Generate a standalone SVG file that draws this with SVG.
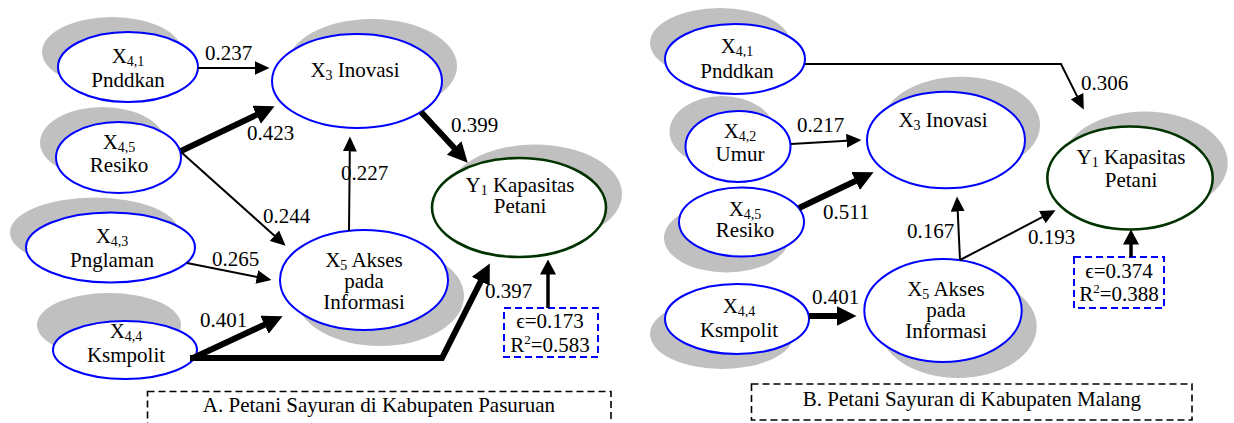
<svg xmlns="http://www.w3.org/2000/svg" width="1234" height="423" viewBox="0 0 1234 423">
<style>
text{font-family:"Liberation Serif","Times New Roman",serif;font-size:21px;fill:#000;text-anchor:middle}
.lbl{text-anchor:start}
.sub{font-size:14px}
.sup{font-size:13px}
.sh{fill:#c0c0c0;stroke:none}
.nb{fill:#fff;stroke:#0000ff;stroke-width:2}
.ng{fill:#fff;stroke:#003300;stroke-width:2.6}
.thin{fill:none;stroke:#000;stroke-width:2;marker-end:url(#ahThin)}
.thick{fill:none;stroke:#000;stroke-width:6;marker-end:url(#ahThick)}
.mid{fill:none;stroke:#000;stroke-width:3.5;marker-end:url(#ahMid)}
.err{fill:#fff;stroke:#0000ff;stroke-width:2;stroke-dasharray:7,4}
.cap{fill:none;stroke:#000;stroke-width:1.6;stroke-dasharray:7,4}
</style>
<defs>
<marker id="ahThin" markerUnits="userSpaceOnUse" markerWidth="15" markerHeight="14" viewBox="0 0 15 14" refX="0.5" refY="7" orient="auto"><path d="M0,0 L15,7 L0,14 z" fill="#000"/></marker>
<marker id="ahMid" markerUnits="userSpaceOnUse" markerWidth="15" markerHeight="16" viewBox="0 0 15 16" refX="0.5" refY="8" orient="auto"><path d="M0,0 L15,8 L0,16 z" fill="#000"/></marker>
<marker id="ahThick" markerUnits="userSpaceOnUse" markerWidth="20" markerHeight="20" viewBox="0 0 20 20" refX="0.5" refY="10" orient="auto"><path d="M0,0 L20,10 L0,20 z" fill="#000"/></marker>
</defs>

<!-- Panel A nodes -->
<g id="nA41"><ellipse class="sh" cx="112" cy="52" rx="70" ry="35"/><ellipse class="nb" cx="128" cy="67" rx="70" ry="35"/>
<text x="128" y="63">X<tspan class="sub" dy="3">4,1</tspan></text><text x="128" y="87">Pnddkan</text></g>
<g id="nA45"><ellipse class="sh" cx="102.5" cy="142.5" rx="62.5" ry="35.5"/><ellipse class="nb" cx="118.5" cy="157.5" rx="62.5" ry="35.5"/>
<text x="119" y="149">X<tspan class="sub" dy="3">4,5</tspan></text><text x="119" y="172">Resiko</text></g>
<g id="nA43"><ellipse class="sh" cx="94.5" cy="232.5" rx="84.5" ry="35"/><ellipse class="nb" cx="110.5" cy="247.5" rx="84.5" ry="35"/>
<text x="112" y="243">X<tspan class="sub" dy="3">4,3</tspan></text><text x="112" y="267">Pnglaman</text></g>
<g id="nA44"><ellipse class="sh" cx="109" cy="325" rx="72" ry="32"/><ellipse class="nb" cx="125" cy="350" rx="72" ry="29"/>
<text x="126" y="338">X<tspan class="sub" dy="3">4,4</tspan></text><text x="126" y="362">Ksmpolit</text></g>
<g id="nA3"><ellipse class="sh" cx="372" cy="66" rx="85" ry="47"/><ellipse class="nb" cx="357" cy="81" rx="85" ry="47"/>
<text x="355" y="77">X<tspan class="sub" dy="3">3</tspan><tspan dy="-3"> Inovasi</tspan></text></g>
<g id="nAY"><ellipse class="sh" cx="535" cy="194" rx="87" ry="49.5"/><ellipse class="ng" cx="519" cy="207.5" rx="87" ry="49.5"/>
<text x="520" y="192">Y<tspan class="sub" dy="3">1</tspan><tspan dy="-3"> Kapasitas</tspan></text><text x="520" y="213">Petani</text></g>
<g id="nA5"><ellipse class="sh" cx="380" cy="296" rx="84" ry="50"/><ellipse class="nb" cx="364" cy="280" rx="84" ry="50"/>
<text x="364" y="267">X<tspan class="sub" dy="3">5</tspan><tspan dy="-3"> Akses</tspan></text><text x="364" y="288">pada</text><text x="364" y="309">Informasi</text></g>
<g id="errA"><rect class="err" x="504" y="308" width="94" height="49"/>
<text x="550" y="328">ϵ=0.173</text><text x="550" y="352">R<tspan class="sup" dy="-8">2</tspan><tspan dy="8">=0.583</tspan></text></g>
<g id="capA"><rect class="cap" x="147.5" y="391.5" width="463.5" height="45"/><text x="379" y="412">A. Petani Sayuran di Kabupaten Pasuruan</text></g>

<!-- Panel B nodes -->
<g id="nB41"><ellipse class="sh" cx="720" cy="43" rx="70" ry="35"/><ellipse class="nb" cx="735" cy="59" rx="70" ry="35"/>
<text x="737" y="53">X<tspan class="sub" dy="3">4,1</tspan></text><text x="737" y="78">Pnddkan</text></g>
<g id="nB42"><ellipse class="sh" cx="722" cy="131.5" rx="52.5" ry="35.5"/><ellipse class="nb" cx="738" cy="146.5" rx="52.5" ry="35.5"/>
<text x="740" y="138">X<tspan class="sub" dy="3">4,2</tspan></text><text x="740" y="161">Umur</text></g>
<g id="nB45"><ellipse class="sh" cx="726.5" cy="238" rx="62.5" ry="34.5"/><ellipse class="nb" cx="741.5" cy="222" rx="62.5" ry="34.5"/>
<text x="745" y="216">X<tspan class="sub" dy="3">4,5</tspan></text><text x="745" y="237">Resiko</text></g>
<g id="nB44"><ellipse class="sh" cx="722" cy="334" rx="72" ry="35"/><ellipse class="nb" cx="737" cy="319" rx="72" ry="35"/>
<text x="739" y="313">X<tspan class="sub" dy="3">4,4</tspan></text><text x="739" y="337">Ksmpolit</text></g>
<g id="nB3"><ellipse class="sh" cx="961" cy="125" rx="79" ry="48.3"/><ellipse class="nb" cx="946" cy="140" rx="79" ry="48.3"/>
<text x="943" y="127">X<tspan class="sub" dy="3">3</tspan><tspan dy="-3"> Inovasi</tspan></text></g>
<g id="nBY"><ellipse class="sh" cx="1145" cy="163" rx="82.7" ry="51.5"/><ellipse class="ng" cx="1130" cy="178" rx="82.7" ry="51.5"/>
<text x="1131" y="164">Y<tspan class="sub" dy="3">1</tspan><tspan dy="-3"> Kapasitas</tspan></text><text x="1131" y="187">Petani</text></g>
<g id="nB5"><ellipse class="sh" cx="958" cy="326.5" rx="78.7" ry="51.5"/><ellipse class="nb" cx="943" cy="310.5" rx="78.7" ry="51.5"/>
<text x="946" y="296">X<tspan class="sub" dy="3">5</tspan><tspan dy="-3"> Akses</tspan></text><text x="946" y="317">pada</text><text x="946" y="338">Informasi</text></g>
<g id="errB"><rect class="err" x="1074" y="257" width="90" height="51"/>
<text x="1119" y="278">ϵ=0.374</text><text x="1119" y="301">R<tspan class="sup" dy="-8">2</tspan><tspan dy="8">=0.388</tspan></text></g>
<g id="capB"><rect class="cap" x="751.5" y="384" width="440.5" height="36"/><text x="972" y="406">B. Petani Sayuran di Kabupaten Malang</text></g>

<!-- Connectors -->
<g id="connectors">
<path class="thin" d="M198,68 L255,68"/>
<path class="thick" d="M181,151 L257,114.6"/>
<path class="thin" d="M181,152 L274.8,236"/>
<path class="thin" d="M187,263 L257.3,277.1"/>
<path class="thick" d="M193,358 L264.9,324.5"/>
<path class="thick" d="M190,358 L442,358 L481,280.9" stroke-linejoin="miter"/>
<path class="thin" d="M349,231 L349.8,151"/>
<path class="thick" d="M421,112 L454.5,148.3"/>
<path class="mid" d="M548,308 L548,274"/>
<path class="thin" d="M805,64 L1061,64 L1077.3,96.6"/>
<path class="thin" d="M791,144 L847,140.8"/>
<path class="thick" d="M799,208 L856,180.7"/>
<path class="thick" d="M809,316 L837,316"/>
<path class="thin" d="M960,260 L957.7,211"/>
<path class="thin" d="M960,260 L1042.7,216.9"/>
<path class="mid" d="M1131,257 L1131,244"/>
</g>
<g id="labels">
<text class="lbl" x="205" y="60">0.237</text>
<text class="lbl" x="247" y="140">0.423</text>
<text class="lbl" x="263" y="223">0.244</text>
<text class="lbl" x="212" y="266">0.265</text>
<text class="lbl" x="200" y="327">0.401</text>
<text class="lbl" x="485" y="298">0.397</text>
<text class="lbl" x="341" y="180">0.227</text>
<text class="lbl" x="451" y="132">0.399</text>
<text class="lbl" x="1081" y="90">0.306</text>
<text class="lbl" x="797" y="132">0.217</text>
<text class="lbl" x="823" y="219">0.511</text>
<text class="lbl" x="812" y="304">0.401</text>
<text class="lbl" x="907" y="238">0.167</text>
<text class="lbl" x="1028" y="244">0.193</text>
</g>
</svg>
